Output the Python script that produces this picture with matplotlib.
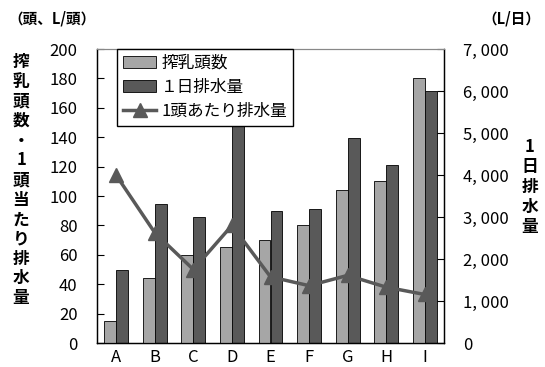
import matplotlib
matplotlib.use("Agg")
import matplotlib.pyplot as plt
import numpy as np
from matplotlib.patches import Patch
from matplotlib.lines import Line2D

plt.rcParams['font.family'] = ['Noto Sans CJK JP', 'DejaVu Sans']

categories = ['A', 'B', 'C', 'D', 'E', 'F', 'G', 'H', 'I']
heads = [15, 44, 60, 65, 70, 80, 104, 110, 180]            # 搾乳頭数 (left axis)
daily = [1740, 3300, 3000, 5200, 3150, 3180, 4890, 4250, 6000]  # 1日排水量 (right axis)
per_head = [114, 75, 50, 80, 45, 39, 46, 38, 33]           # 1頭あたり排水量 (left axis)

left_ticks = [0, 20, 40, 60, 80, 100, 120, 140, 160, 180, 200]
right_ticks = [0, 1000, 2000, 3000, 4000, 5000, 6000, 7000]
right_labels = ['0', '1, 000', '2, 000', '3, 000', '4, 000', '5, 000', '6, 000', '7, 000']

light = '#a6a6a6'
dark = '#595959'
line_c = '#595959'

fig = plt.figure(figsize=(5.45, 3.67), dpi=100)
ax1 = fig.add_axes([97/545, 1-343/367, (444-97)/545, (343-49)/367])
ax2 = ax1.twinx()
ax1.set_zorder(ax2.get_zorder() + 1)
ax1.patch.set_visible(False)

x = np.arange(len(categories))
w = 0.31
ax1.bar(x - w/2, heads, width=w, color=light, edgecolor='black', linewidth=0.6)
ax2.bar(x + w/2, daily, width=w, color=dark, edgecolor='black', linewidth=0.6)
ax1.plot(x, per_head, color=line_c, linewidth=2.5, marker='^', markersize=10,
         markeredgecolor=line_c)

ax1.set_xlim(-0.5, len(categories) - 0.5)
ax1.set_ylim(0, 200)
ax2.set_ylim(0, 7000)
ax1.set_yticks(left_ticks)
ax1.set_yticklabels([str(t) for t in left_ticks], fontsize=12)
ax2.set_yticks(right_ticks)
ax2.set_yticklabels(right_labels, fontsize=12)
ax1.set_xticks(x)
ax1.set_xticklabels(categories, fontsize=12)

ax1.tick_params(axis='y', direction='in', length=5, pad=14, width=0.8)
ax2.tick_params(axis='y', direction='in', length=5, pad=14, width=0.8)
ax1.tick_params(axis='x', length=0, pad=4)

for ax in (ax1, ax2):
    ax.spines['top'].set_color('#888888')
    for s in ('left', 'right', 'bottom'):
        ax.spines[s].set_color('black')
        ax.spines[s].set_linewidth(0.9)

handles = [
    Patch(facecolor=light, edgecolor='black', linewidth=0.6),
    Patch(facecolor=dark, edgecolor='black', linewidth=0.6),
    Line2D([0], [0], color=line_c, linewidth=2.5, marker='^', markersize=10),
]
labels = ['搾乳頭数', '１日排水量', '1頭あたり排水量']
leg = ax1.legend(handles, labels, loc='upper left', bbox_to_anchor=(0.058, 1.0),
                 fontsize=12, frameon=True, fancybox=False, framealpha=1,
                 edgecolor='black', borderpad=0.35, labelspacing=0.42,
                 handlelength=2.0, handletextpad=0.3, borderaxespad=0.0)
leg.get_frame().set_linewidth(1.0)

left_label = '搾乳頭数・1頭当たり排水量'
fig.text(21/545, 1-180/367, '\n'.join(left_label), ha='center', va='center',
         fontsize=12, fontweight='bold', linespacing=1.12)
right_label = '1日排水量'
fig.text(530/545, 1-187/367, '\n'.join(right_label), ha='center', va='center',
         fontsize=12, fontweight='bold', linespacing=1.15)
fig.text(8/545, 1-18/367, '（頭、L/頭）', ha='left', va='center', fontsize=10.5, fontweight='bold')
fig.text(540/545, 1-18/367, '（L/日）', ha='right', va='center', fontsize=10.5, fontweight='bold')

fig.savefig('out.png', dpi=100)
